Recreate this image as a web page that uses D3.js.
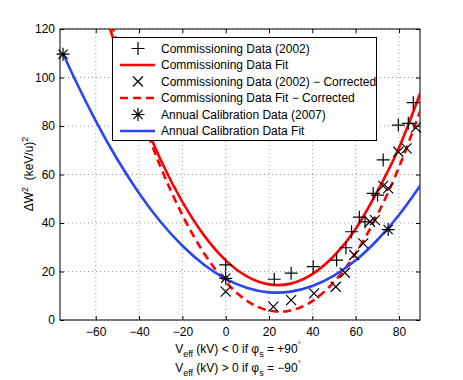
<!DOCTYPE html>
<html>
<head>
<meta charset="utf-8">
<script src="https://cdn.jsdelivr.net/npm/d3@7"></script>
<style>
  body { margin: 0; background: #fff; }
  svg { font-family: "Liberation Sans", Arial, sans-serif; }
</style>
</head>
<body>
<svg width="463" height="380"></svg>
<script>
// mätdata (V_eff kV, dW^2)
const commData = [[0,22.7],[22.4,16.8],[30.2,19.3],[40.4,22],[51.2,24.7],[55.5,29.8],[58.1,36.4],
  [61.7,42.4],[64.3,40.5],[68.1,52.2],[70.1,51.5],[72.7,66],[79.7,80.4],[84.3,81.1],[86.6,89.6]];
const corrData = [[0,11.7],[22,5.5],[30.2,8.2],[40.8,11],[50.8,13.7],[55,19.5],[59.3,26.8],
  [63.5,31.6],[66.6,40.5],[68.9,41.2],[72.7,55.3],[75,54.3],[79.7,69.4],[83.5,70.8],[87.8,79.3]];
const annualData = [[-75.1,109.6],[0,17.2],[75,37.3]];

// fit-kurvor avlästa längs x
const fitV = [-75,-70,-60,-50,-40,-30,-20,-10,0,10,20,30,40,50,60,70,80,90];
const commFitY = [188,171,139,111,87,66,48.7,34.9,24.6,17.9,14.7,15,18.9,26.4,37.5,53,71,94];
const corrFitY = [200,181,146,114,86.6,63,43.3,27.5,15.7,7.8,3.9,3.9,7.8,15.7,27.5,43.3,63,86.6];
const annualFitY = [109.7,100,82.1,66.2,52.3,40.4,30.6,22.8,17,13.2,11.4,11.7,14,18.3,24.6,33,43.3,55.7];

const xTicks = [-60,-40,-20,0,20,40,60,80];
const yTicks = [0,20,40,60,80,100,120];

const legendItems = [
  { label: "Commissioning Data (2002)", type: "plus" },
  { label: "Commissioning Data Fit", type: "line", color: "#ff0000" },
  { label: "Commissioning Data (2002) \u2212 Corrected", type: "cross" },
  { label: "Commissioning Data Fit \u2212 Corrected", type: "line", color: "#ff0000", dash: "8,5" },
  { label: "Annual Calibration Data (2007)", type: "star" },
  { label: "Annual Calibration Data Fit", type: "line", color: "#2a44ff" }
];

const svg = d3.select("svg");
const plot = { left: 60, right: 420, top: 29, bottom: 320 };

const x = d3.scaleLinear().domain([-76.5, 89.7]).range([plot.left, plot.right]);
const y = d3.scaleLinear().domain([0, 120]).range([plot.bottom, plot.top]);

svg.append("defs").append("clipPath").attr("id", "clip")
  .append("rect")
  .attr("x", plot.left).attr("y", plot.top)
  .attr("width", plot.right - plot.left).attr("height", plot.bottom - plot.top);

// rutnät
const grid = svg.append("g").attr("stroke", "#9a9a9a").attr("stroke-dasharray", "1,3");
grid.selectAll(".gx").data(xTicks).enter().append("line")
  .attr("x1", d => x(d)).attr("x2", d => x(d))
  .attr("y1", plot.top).attr("y2", plot.bottom);
grid.selectAll(".gy").data(yTicks).enter().append("line")
  .attr("x1", plot.left).attr("x2", plot.right)
  .attr("y1", d => y(d)).attr("y2", d => y(d));

// axlar, ticks inåt
const xAxis = svg.append("g")
  .attr("transform", `translate(0,${plot.bottom})`)
  .call(d3.axisBottom(x).tickValues(xTicks).tickSize(-4).tickPadding(7).tickFormat(d => d < 0 ? "\u2212" + Math.abs(d) : d));
const yAxis = svg.append("g")
  .attr("transform", `translate(${plot.left},0)`)
  .call(d3.axisLeft(y).tickValues(yTicks).tickSize(-4).tickPadding(5));
svg.append("g")
  .attr("transform", `translate(0,${plot.top})`)
  .call(d3.axisTop(x).tickValues(xTicks).tickSize(-4).tickFormat(""));
svg.append("g")
  .attr("transform", `translate(${plot.right},0)`)
  .call(d3.axisRight(y).tickValues(yTicks).tickSize(-4).tickFormat(""));

svg.selectAll(".domain").remove();
svg.selectAll(".tick line").attr("stroke", "#000");
svg.selectAll(".tick text").attr("fill", "#000").style("font-size", "12px");

svg.append("rect")
  .attr("x", plot.left).attr("y", plot.top)
  .attr("width", plot.right - plot.left).attr("height", plot.bottom - plot.top)
  .attr("fill", "none").attr("stroke", "#000");

// markörer
const symbols = {
  plus: "M-6.5,0H6.5M0,-6.5V6.5",
  cross: "M-5,-5L5,5M-5,5L5,-5",
  star: "M-6.5,0H6.5M0,-6.5V6.5M-4.6,-4.6L4.6,4.6M-4.6,4.6L4.6,-4.6"
};

const line = d3.line().x(d => x(d[0])).y(d => y(d[1])).curve(d3.curveNatural);
const curves = svg.append("g").attr("clip-path", "url(#clip)");

function drawMarkers(data, type) {
  svg.append("g").selectAll("path")
    .data(data).enter().append("path")
    .attr("transform", d => `translate(${x(d[0])},${y(d[1])})`)
    .attr("d", symbols[type])
    .attr("fill", "none").attr("stroke", "#000").attr("stroke-width", 1.2);
}
function drawFit(vals, color, dash) {
  curves.append("path")
    .datum(fitV.map((v, i) => [v, vals[i]]))
    .attr("d", line)
    .attr("fill", "none").attr("stroke", color).attr("stroke-width", 2.6)
    .attr("stroke-dasharray", dash || null);
}

drawMarkers(commData, "plus");
drawFit(commFitY, "#ff0000");
drawMarkers(corrData, "cross");
drawFit(corrFitY, "#ff0000", "8,5");
drawMarkers(annualData, "star");
drawFit(annualFitY, "#2a44ff");

// legend
const legend = svg.append("g");
legend.append("rect")
  .attr("x", 112.5).attr("y", 37.5).attr("width", 264).attr("height", 103)
  .attr("fill", "#fff").attr("stroke", "#000");
const rows = legend.selectAll(".row").data(legendItems).enter().append("g")
  .attr("transform", (d, i) => `translate(0,${48.5 + i * 16.5})`);
rows.filter(d => d.type === "line").append("line")
  .attr("x1", 120).attr("x2", 155).attr("y1", 0).attr("y2", 0)
  .attr("stroke", d => d.color).attr("stroke-width", 2.6)
  .attr("stroke-dasharray", d => d.dash || null);
rows.filter(d => d.type !== "line").append("path")
  .attr("transform", "translate(138,0)")
  .attr("d", d => symbols[d.type])
  .attr("fill", "none").attr("stroke", "#000").attr("stroke-width", 1.2);
rows.append("text")
  .attr("x", 161).attr("dy", "0.35em")
  .style("font-size", "12px")
  .text(d => d.label);

// axeltitlar
const yLabel = svg.append("text")
  .attr("transform", "translate(33,174) rotate(-90)")
  .attr("text-anchor", "middle")
  .style("font-size", "12px");
yLabel.append("tspan").text("\u0394W");
yLabel.append("tspan").attr("dy", -5).style("font-size", "9px").text("2");
yLabel.append("tspan").attr("dy", 5).text("\u00a0 (keV/u)");
yLabel.append("tspan").attr("dy", -5).style("font-size", "9px").text("2");

function xLabelLine(yPos, sign, phase) {
  const t = svg.append("text")
    .attr("x", 238).attr("y", yPos)
    .attr("text-anchor", "middle")
    .style("font-size", "12px");
  t.append("tspan").text("V");
  t.append("tspan").attr("dy", 4).style("font-size", "9px").text("eff");
  t.append("tspan").attr("dy", -4).text(` (kV) ${sign} 0 if \u03c6`);
  t.append("tspan").attr("dy", 4).style("font-size", "9px").text("s");
  t.append("tspan").attr("dy", -4).text(` = ${phase}90`);
  t.append("tspan").attr("dy", -6).style("font-size", "8px").text("\u00b0");
}
xLabelLine(353, "<", "+");
xLabelLine(372, ">", "\u2212");
</script>
</body>
</html>
